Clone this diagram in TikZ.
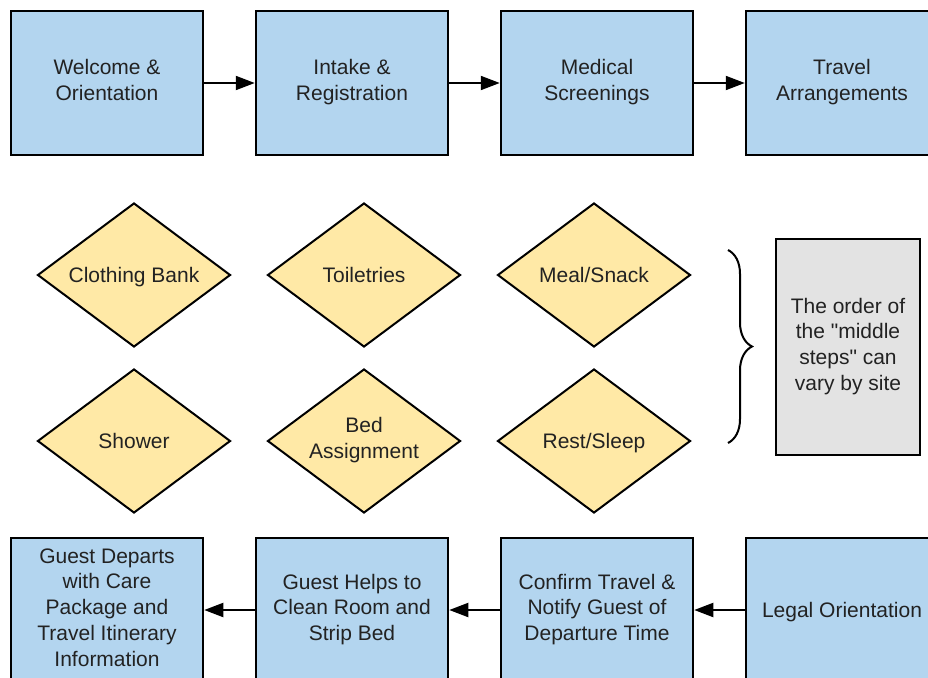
\documentclass[tikz,border=0pt]{standalone}
\usepackage{fontspec}
\setmainfont{Liberation Sans}
\usetikzlibrary{shapes.geometric,decorations.pathreplacing,arrows.meta}
\definecolor{stepblue}{RGB}{179,213,239}
\definecolor{stationyellow}{RGB}{255,233,166}
\definecolor{notegray}{RGB}{227,227,227}
\definecolor{textgray}{RGB}{34,34,34}
\newcommand\linestrut{\rule[-5.5pt]{0pt}{25.75pt}}
\begin{document}
\begin{tikzpicture}[
    x=1pt, y=-1pt,
    every node/.style={font=\fontsize{21}{25.75}\selectfont, text=textgray, execute at begin node=\linestrut, execute at end node=\linestrut},
    stepbox/.style={rectangle, draw, line width=2.5pt, fill=stepblue, minimum width=192pt, minimum height=144pt, align=center, inner sep=0pt},
    station/.style={diamond, aspect=1.34, draw, line width=2pt, fill=stationyellow, minimum width=193pt, minimum height=144pt, align=center, inner sep=0pt},
    note/.style={rectangle, draw, line width=2.5pt, fill=notegray, minimum width=144pt, minimum height=216pt, align=center, inner sep=0pt},
    flow/.style={-{Triangle[length=19pt,width=14pt]}, line width=2pt}
]
    \useasboundingbox (0,0) rectangle (928,677);
    \clip (0,0) rectangle (928,677);

    % Arrival steps
    \node[stepbox] (welcome) at (107,83) {Welcome \&\\Orientation};
    \node[stepbox] (intake) at (352,83) {Intake \&\\Registration};
    \node[stepbox] (medical) at (597,83) {Medical\\Screenings};
    \node[stepbox] (travel) at (842,83) {Travel\\Arrangements};

    % Middle steps
    \node[station] (clothing) at (134,275) {Clothing Bank};
    \node[station] (toiletries) at (364,275) {Toiletries};
    \node[station] (meal) at (594,275) {Meal/Snack};
    \node[station] (shower) at (134,441) {Shower};
    \node[station] (bed) at (364,441) {Bed\\Assignment};
    \node[station] (rest) at (594,441) {Rest/Sleep};

    % Note and brace
    \node[note] (order) at (848,347) {The order of\\the \textquotedbl middle\\steps\textquotedbl{} can\\vary by site};
    \coordinate (braceTop) at (728,250);
    \coordinate (braceBot) at (728,443);
    \draw[line width=2pt, decorate, decoration={brace, amplitude=24pt}] (braceTop) -- (braceBot);

    % Departure steps
    \node[stepbox] (legal) at (842,610) {Legal Orientation};
    \node[stepbox] (confirm) at (597,610) {Confirm Travel \&\\Notify Guest of\\Departure Time};
    \node[stepbox] (clean) at (352,610) {Guest Helps to\\Clean Room and\\Strip Bed};
    \node[stepbox] (departs) at (107,610) {Guest Departs\\with Care\\Package and\\Travel Itinerary\\Information};

    % Connections
    \draw[flow] (welcome) -- (intake);
    \draw[flow] (intake) -- (medical);
    \draw[flow] (medical) -- (travel);
    \draw[flow] (legal) -- (confirm);
    \draw[flow] (confirm) -- (clean);
    \draw[flow] (clean) -- (departs);
\end{tikzpicture}
\end{document}
